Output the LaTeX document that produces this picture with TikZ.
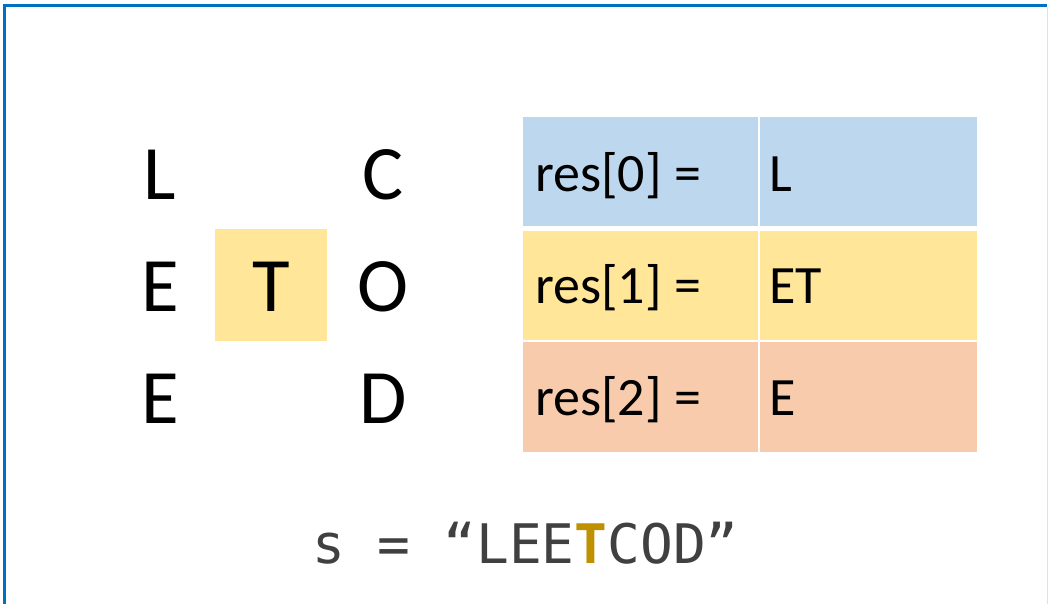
\documentclass[tikz,border=0pt]{standalone}
\usepackage{fontspec}
\setmainfont{Carlito}
\newfontfamily\codefont{DejaVu Sans Mono}
\definecolor{frameblue}{HTML}{0070C0}
\definecolor{framelight}{HTML}{D6E4F2}
\definecolor{cellblue}{HTML}{BDD7EE}
\definecolor{cellyellow}{HTML}{FFE699}
\definecolor{cellorange}{HTML}{F8CBAD}
\definecolor{codegray}{HTML}{404040}
\definecolor{codegold}{HTML}{BF9000}
\tikzset{
  gridletter/.style={anchor=base, inner sep=0pt, font=\fontsize{77}{80}\selectfont},
  cellbox/.style={minimum width=#1, inner sep=0pt, minimum height=110pt, draw=none},
  celltext/.style={anchor=base west, inner sep=0pt, font=\fontsize{54}{58}\selectfont},
}
\begin{document}
\begin{tikzpicture}[x=1pt,y=-1pt]
\useasboundingbox (0,0) rectangle (1049,603);
% frame
\draw[frameblue, line width=3pt] (4,620) -- (4,5) -- (1047,5);
\draw[framelight, line width=1pt] (1047.5,6.5) -- (1047.5,620);
% highlighted T box
\node[fill=cellyellow, minimum width=112pt, minimum height=112pt, inner sep=0pt] (tbox) at (271,285) {};
% grid letters
\node[gridletter] (g00) at (160,199) {L};
\node[gridletter] (g10) at (160,311) {E};
\node[gridletter] (g20) at (160,423) {E};
\node[gridletter] (g11) at (271,311) {T};
\node[gridletter] (g02) at (383,199) {C};
\node[gridletter] (g12) at (383,311) {O};
\node[gridletter] (g22) at (383,423) {D};
% table cells
\node[cellbox=235pt, fill=cellblue, minimum height=109pt] (c00) at (640.5,171.5) {};
\node[cellbox=217pt, fill=cellblue, minimum height=109pt] (c01) at (868.5,171.5) {};
\node[cellbox=235pt, fill=cellyellow, minimum height=109pt] (c10) at (640.5,285.5) {};
\node[cellbox=217pt, fill=cellyellow, minimum height=109pt] (c11) at (868.5,285.5) {};
\node[cellbox=235pt, fill=cellorange, minimum height=110pt] (c20) at (640.5,397) {};
\node[cellbox=217pt, fill=cellorange, minimum height=110pt] (c21) at (868.5,397) {};
% table texts
\node[celltext] (t00) at (535,191) {res[0] =};
\node[celltext] (t01) at (769,191) {L};
\node[celltext] (t10) at (535,303) {res[1] =};
\node[celltext] (t11) at (769,303) {ET};
\node[celltext] (t20) at (535,415) {res[2] =};
\node[celltext] (t21) at (769,415) {E};
% bottom string
\node[anchor=base west, inner sep=0pt, text=codegray, font=\codefont\fontsize{54.5}{57}\selectfont] (str) at (312,563) {s = “LEE\textcolor{codegold}{\bfseries T}COD”};
\end{tikzpicture}
\end{document}
